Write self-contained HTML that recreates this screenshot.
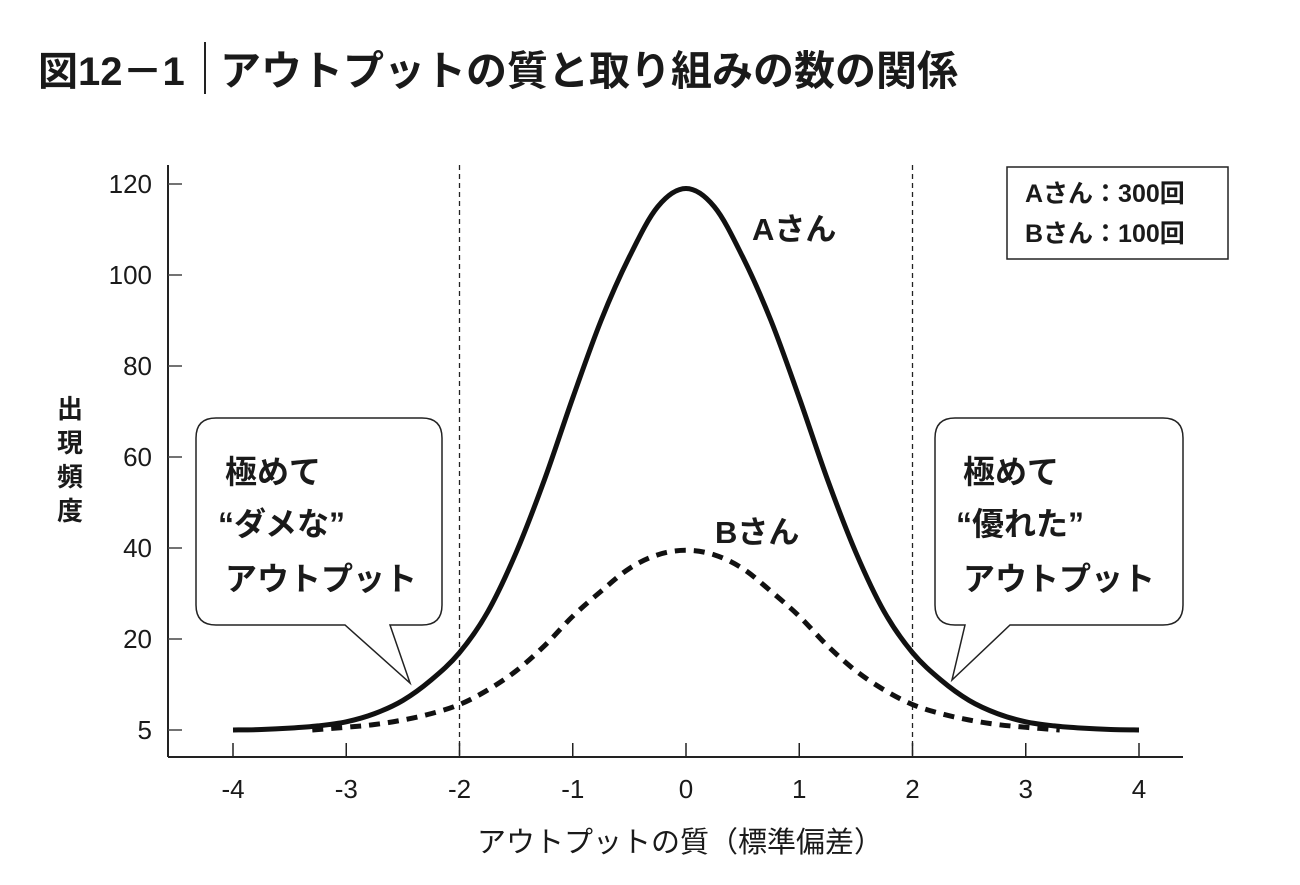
<!DOCTYPE html>
<html><head><meta charset="utf-8"><style>
body{margin:0;background:#fff;}
svg text{font-family:"Liberation Sans","Noto Sans CJK JP",sans-serif;fill:#1a1a1a;}
</style></head><body>
<svg width="1300" height="880" viewBox="0 0 1300 880" xmlns="http://www.w3.org/2000/svg">
<text x="38" y="85" font-size="40" font-weight="bold">図12－1</text>
<line x1="205" y1="42" x2="205" y2="94" stroke="#222" stroke-width="2"/>
<text x="220" y="85" font-size="41" font-weight="bold">アウトプットの質と取り組みの数の関係</text>
<g id="plot"></g>
<text x="752" y="240" font-size="31" font-weight="bold">Aさん</text>
<text x="715" y="543" font-size="31" font-weight="bold">Bさん</text>
<g>
<rect x="1007" y="167" width="221" height="92" fill="#fff" stroke="#222" stroke-width="1.5"/>
<text x="1025" y="202" font-size="25" font-weight="bold">Aさん：300回</text>
<text x="1025" y="242" font-size="25" font-weight="bold">Bさん：100回</text>
</g>
<g>
<path d="M216,418 H422 Q442,418 442,438 V605 Q442,625 422,625 H390 L410,683 L345,625 H216 Q196,625 196,605 V438 Q196,418 216,418 Z" fill="#fff" stroke="#222" stroke-width="1.5"/>
<text x="225" y="483" font-size="32" font-weight="bold">極めて</text>
<text x="218" y="535" font-size="32" font-weight="bold">“ダメな”</text>
<text x="225" y="590" font-size="32" font-weight="bold">アウトプット</text>
</g>
<g>
<path d="M955,418 H1163 Q1183,418 1183,438 V605 Q1183,625 1163,625 H1010 L952,680 L965,625 H955 Q935,625 935,605 V438 Q935,418 955,418 Z" fill="#fff" stroke="#222" stroke-width="1.5"/>
<text x="963" y="483" font-size="32" font-weight="bold">極めて</text>
<text x="956" y="535" font-size="32" font-weight="bold">“優れた”</text>
<text x="963" y="590" font-size="32" font-weight="bold">アウトプット</text>
</g>
<g transform="translate(70,0)">
<text x="0" y="418" font-size="26" font-weight="bold" text-anchor="middle">出</text>
<text x="0" y="452" font-size="26" font-weight="bold" text-anchor="middle">現</text>
<text x="0" y="486" font-size="26" font-weight="bold" text-anchor="middle">頻</text>
<text x="0" y="520" font-size="26" font-weight="bold" text-anchor="middle">度</text>
</g>
<text x="680" y="852" font-size="29" text-anchor="middle">アウトプットの質（標準偏差）</text>
</svg>
<script>
const xs=[-4,-3.75,-3.5,-3.25,-3,-2.75,-2.5,-2.25,-2,-1.75,-1.5,-1.25,-1,-0.75,-0.5,-0.25,0,0.25,0.5,0.75,1,1.25,1.5,1.75,2,2.25,2.5,2.75,3,3.25,3.5,3.75,4];
const seriesA=[0,0.1,0.4,0.9,1.8,3.6,6.5,11,17,26,39,55,73,90,104,115,119,115,104,90,73,55,39,26,17,11,6.5,3.6,1.8,0.9,0.4,0.1,0];
const xsB=[-3.3,-3,-2.75,-2.5,-2.25,-2,-1.75,-1.5,-1.25,-1,-0.75,-0.5,-0.25,0,0.25,0.5,0.75,1,1.25,1.5,1.75,2,2.25,2.5,2.75,3,3.3];
const seriesB=[0,0.6,1.2,2.2,3.6,5.6,8.8,13,18.5,25,30.5,35.5,38.5,39.5,38.5,35.5,30.5,25,18.5,13,8.8,5.6,3.6,2.2,1.2,0.6,0];
const yTicks=[0,20,40,60,80,100,120];
const yTickLabels=["5","20","40","60","80","100","120"];
const xTicks=[-4,-3,-2,-1,0,1,2,3,4];
const refLines=[-2,2];
const NS="http://www.w3.org/2000/svg";
const X=v=>686+v*113.25;
const Y=v=>730-v*4.55;
const g=document.getElementById('plot');
function mk(t,a){const e=document.createElementNS(NS,t);for(const k in a)e.setAttribute(k,a[k]);g.appendChild(e);return e;}
let e=mk('line',{x1:168,y1:165,x2:168,y2:757,stroke:'#222','stroke-width':2});


e=mk('line',{x1:168,y1:757,x2:1183,y2:757,stroke:'#222','stroke-width':2});


yTicks.forEach((v,i)=>{
 e=mk('line',{x1:168,y1:Y(v),x2:182,y2:Y(v),stroke:'#444','stroke-width':1.5});
 
 
 e=mk('text',{x:152,y:Y(v)+9,'font-size':26,'text-anchor':'end'});e.textContent=yTickLabels[i];
 
 
});
xTicks.forEach(v=>{
 e=mk('line',{x1:X(v),y1:757,x2:X(v),y2:743,stroke:'#222','stroke-width':1.5});
 
 
 e=mk('text',{x:X(v),y:798,'font-size':26,'text-anchor':'middle'});e.textContent=v;
 
 
});
refLines.forEach(v=>{
 e=mk('line',{x1:X(v),y1:165,x2:X(v),y2:757,stroke:'#222','stroke-width':1.3,'stroke-dasharray':'5,4'});
 
 
});
function path(xa,ya){const p=xa.map((x,i)=>[X(x),Y(ya[i])]);let d='M'+p[0][0]+','+p[0][1];
 for(let i=0;i<p.length-1;i++){const p0=p[i-1]||p[i],p1=p[i],p2=p[i+1],p3=p[i+2]||p2;
 d+=' C'+(p1[0]+(p2[0]-p0[0])/6)+','+(p1[1]+(p2[1]-p0[1])/6)+' '+(p2[0]-(p3[0]-p1[0])/6)+','+(p2[1]-(p3[1]-p1[1])/6)+' '+p2[0]+','+p2[1];}return d;}
e=mk('path',{d:path(xsB,seriesB),fill:'none',stroke:'#111','stroke-width':5,'stroke-dasharray':'11,8'});


e=mk('path',{d:path(xs,seriesA),fill:'none',stroke:'#111','stroke-width':5});


</script>
</body></html>
